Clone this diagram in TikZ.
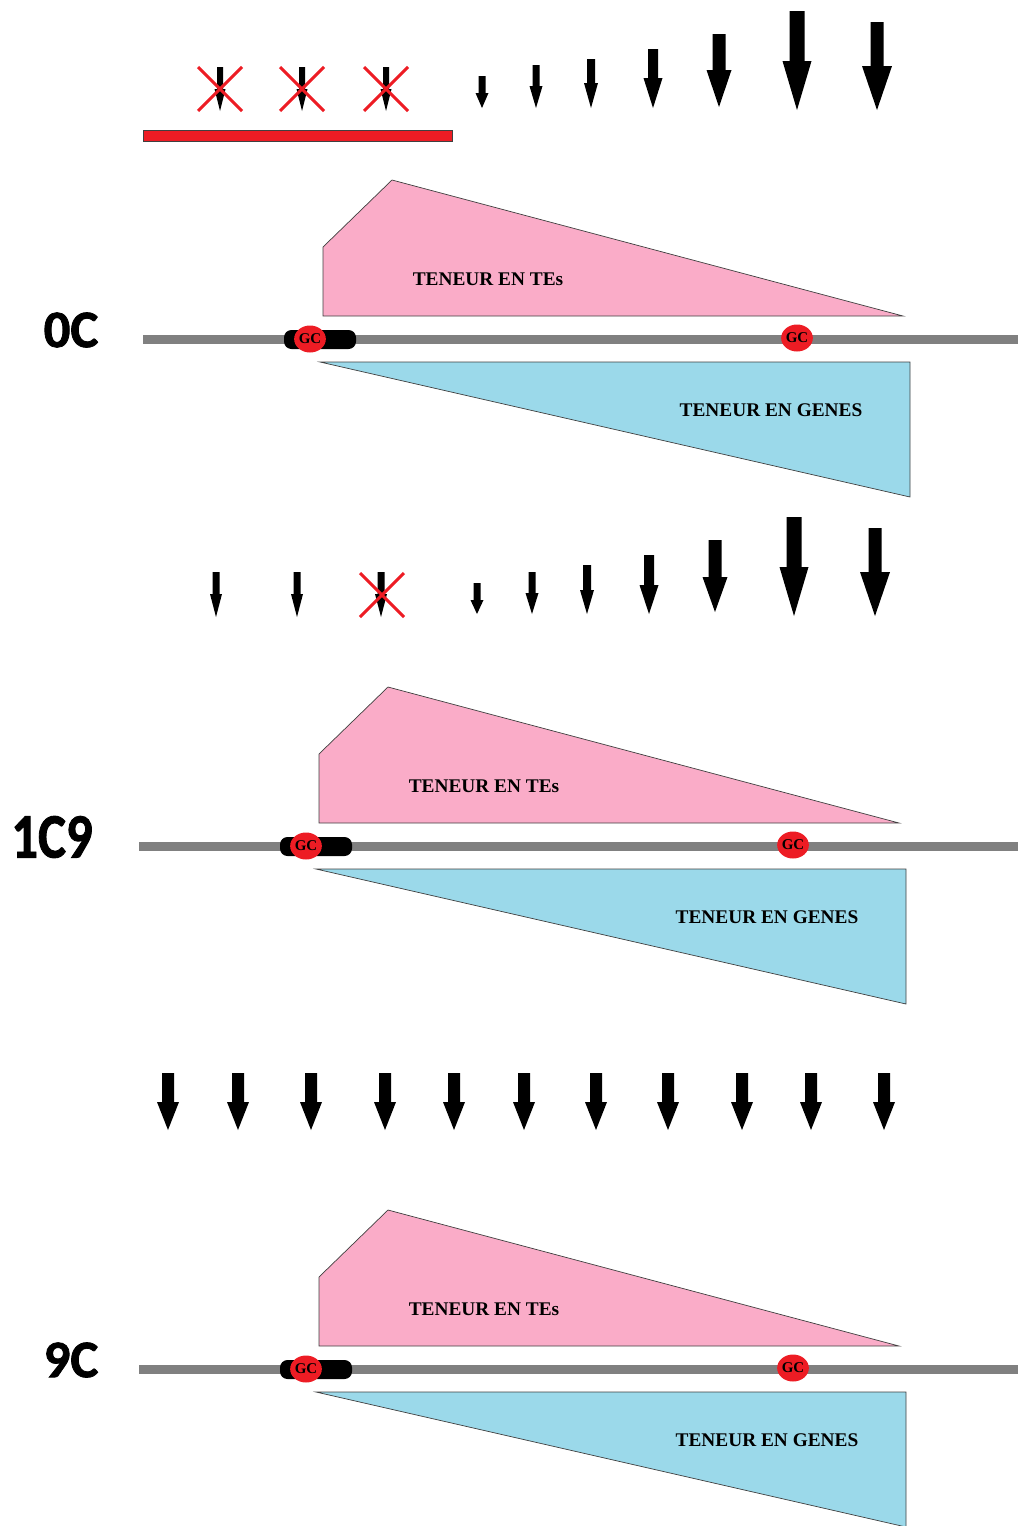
\documentclass[tikz,border=0pt]{standalone}
\usepackage{fontspec}
\setmainfont{Liberation Serif}
\newfontfamily\labelfont{Carlito}[BoldFont=*-Bold,BoldFeatures={FakeBold=1.5}]
\usetikzlibrary{shapes.geometric}
\definecolor{tepink}{HTML}{FAACC8}
\definecolor{geneblue}{HTML}{9BD9EA}
\definecolor{xred}{HTML}{ED1C24}
\definecolor{chromgray}{HTML}{808080}
\definecolor{edgegray}{HTML}{404040}

\begin{document}
\begin{tikzpicture}[x=0.2mm,y=-0.2mm,
	gcdot/.style={ellipse,fill=xred,text=black,inner sep=0pt,minimum width=6.1mm,minimum height=5.4mm,font=\bfseries\fontsize{8.5}{8.5}\selectfont},
	content/.style={font=\bfseries\fontsize{11}{11}\selectfont,text=black,inner sep=0pt},
	crossout/.style={xred,line width=0.6mm}]
	\useasboundingbox (0,0) rectangle (1017,1526);

	% the three sections
	\foreach \lab/\dx/\dy/\lx/\ys [count=\k] in {0C/0/0/71/1,1C9/-4/507/52/1.2,9C/-4/1030/71/1}{
		\begin{scope}[shift={(\dx,\dy)}]
			\draw[fill=tepink,draw=edgegray,line width=0.4pt] (323,316) -- (323,247) -- (392,180) -- (903,316) -- cycle;
			\draw[fill=geneblue,draw=edgegray,line width=0.4pt] (320,362) -- (910,362) -- (910,497) -- cycle;
			\node[content] (tes\k) at (488,279) {TENEUR EN TEs};
			\node[content] (genes\k) at (771,410) {TENEUR EN GENES};
			\draw[chromgray,line width=1.8mm] (143,339) -- (1030,339);
			\fill[black,rounded corners=1.5mm] (284,330) rectangle (356,349);
			\node[gcdot] (gca\k) at (310,339) {GC};
			\node[gcdot] (gcb\k) at (797,338) {GC};
		\end{scope}
		\node[font=\labelfont\bfseries\fontsize{30}{30}\selectfont,inner sep=0pt] (lab\k) at (\lx,330+\dy) {\scalebox{1}[\ys]{\lab}};
	}

	\draw[fill=xred,draw=edgegray,line width=0.4pt] (143,130) rectangle (452,141);

	% arrows: x / top / neck / tip / shaft / head
	\foreach \x/\t/\n/\b/\s/\h in {220/67/89/111/6/11,302/67/89/111/6/11,386/67/89/111/6/11,
		482/76/93/108/7/13,536/65/86/108/7/13,591/59/83/108/8/14,653/49/78/108/10/19,
		719/34/70/107/13/25,797/11/61/110/15/29,877/22/66/110/13/30,
		216/572/594/617/7/12,297/572/594/617/7/12,381/572/594/617/7/12,
		477/583/600/614/7/13,532/572/593/614/7/13,587/565/590/614/8/14,649/555/585/614/10/19,
		715/540/577/612/13/25,794/517/567/616/15/29,875/528/572/616/13/30}{
		\fill (\x-\s/2,\t) -- (\x+\s/2,\t) -- (\x+\s/2,\n) -- (\x+\h/2,\n) -- (\x,\b) -- (\x-\h/2,\n) -- (\x-\s/2,\n) -- cycle;
	}
	\foreach \x in {168,238,311,385,454,524,596,668,742,811,884}{
		\fill (\x-6,1073) -- (\x+6,1073) -- (\x+6,1102) -- (\x+11,1102) -- (\x,1130) -- (\x-11,1102) -- (\x-6,1102) -- cycle;
	}

	% crossed out
	\foreach \x/\t in {220/67,302/67,386/67,382/573}{
		\draw[crossout] (\x-22,\t) -- (\x+22,\t+44) (\x+22,\t) -- (\x-22,\t+44);
	}
\end{tikzpicture}
\end{document}
